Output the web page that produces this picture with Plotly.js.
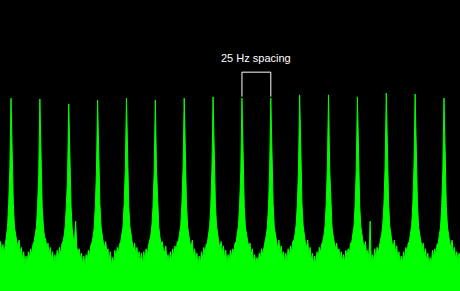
<!DOCTYPE html>
<html>
<head>
<meta charset="utf-8">
<script src="https://cdn.plot.ly/plotly-3.0.1.min.js"></script>
<style>
html,body{margin:0;padding:0;background:#000;}
#chart{width:460px;height:291px;}
</style>
</head>
<body>
<div id="chart"></div>
<script>
// Spectrum sampled every 1 Hz starting at 0 Hz; level in dB above the display floor
const startHz = 0;
const stepHz = 1;

const spectrumLevelDb = [
  // 0-9 Hz
  15, 17, 13, 16, 12.5, 16.5, 19, 22, 30, 42,
  // 10-34 Hz
  66.3, 42, 30, 22, 19, 17, 15, 17.5, 13, 15, 10.5, 13.5, 9, 12, 9.5, 13.5, 11, 14.5, 12.5, 16, 17, 19, 22, 29, 40,
  // 35-59 Hz
  66.0, 41, 29, 22.5, 18.5, 18, 14.5, 16.5, 12.5, 15, 11, 13.5, 9.5, 12.5, 10, 14, 11, 15, 12.5, 16, 17, 19, 22.5, 30, 39,
  // 60-84 Hz
  64.3, 40, 29, 21.5, 18, 17.5, 24, 15, 13, 14.5, 11, 13, 9, 12, 8.5, 12.5, 10.5, 14, 12, 15.5, 16.5, 18.5, 21.5, 29, 41,
  // 85-109 Hz
  65.6, 42, 30, 22, 19, 16.5, 15, 17, 13.5, 14.5, 10.5, 13.5, 9, 11.5, 9.5, 14, 11, 15, 13, 16, 17, 19, 22, 30, 42,
  // 110-134 Hz
  66.3, 41, 29, 22, 19, 17, 14, 16.5, 12.5, 15, 11.5, 13.5, 10, 13, 9, 13.5, 10.5, 14.5, 12, 15.5, 17, 19, 22.5, 29, 41,
  // 135-159 Hz
  65.6, 42, 30, 22, 18.5, 16, 17, 14, 13, 15.5, 11, 12.5, 9.5, 13.5, 10, 14.5, 12, 15.5, 13.5, 17, 17, 19.5, 22.5, 30, 42,
  // 160-184 Hz
  66.3, 41, 29.5, 22, 19, 16.5, 15, 17.5, 12, 14.5, 10.5, 13, 8.5, 12, 9.5, 13.5, 11, 15, 12.5, 16, 16.5, 19, 22, 29, 42,
  // 185-209 Hz
  66.7, 42, 30, 22.5, 18.5, 16.5, 14.5, 17, 13, 15.5, 11, 14, 9, 12.5, 10, 14, 11.5, 14.5, 13, 16.5, 17, 19.5, 22.5, 30, 41,
  // 210-234 Hz
  66.3, 41, 29, 22, 19, 17, 15, 16.5, 12.5, 14.5, 10, 12.5, 9, 11.5, 9.5, 13, 11, 14.5, 12.5, 15.5, 17, 19, 22, 29, 42,
  // 235-259 Hz
  66.3, 42, 30, 22, 19, 16.5, 14.5, 17.5, 13, 15.5, 11.5, 13.5, 9.5, 13, 10, 14.5, 11.5, 15.5, 13.5, 17, 17.5, 19.5, 23, 30, 42,
  // 260-284 Hz
  67.4, 42, 30, 22.5, 18.5, 16.5, 15, 17.5, 12.5, 15, 10.5, 13, 9, 12, 9, 13.5, 11, 15, 13, 16, 17, 19, 22.5, 30, 43,
  // 285-309 Hz
  67.4, 42, 30, 22, 19, 17, 14.5, 16.5, 13, 14.5, 11, 13.5, 10, 12.5, 9.5, 14, 11.5, 14.5, 12.5, 16.5, 16.5, 19.5, 22, 29.5, 42,
  // 310-334 Hz
  66.7, 41, 29, 22, 18.5, 16.5, 15, 17, 12, 14, 10.5, 24, 9.5, 12.5, 10, 14.5, 11, 15, 13, 16, 17.5, 19.5, 23, 30, 43,
  // 335-359 Hz
  68.0, 43, 30.5, 22.5, 19, 16.5, 15, 17.5, 13, 15.5, 11, 13.5, 9, 12, 9.5, 13.5, 11, 15, 13, 16.5, 17, 19.5, 22.5, 30, 43,
  // 360-384 Hz
  67.7, 42, 30, 22, 18.5, 17, 14.5, 16.5, 12.5, 14.5, 10, 13, 8.5, 11.5, 9, 14, 11.5, 14.5, 12.5, 16, 16.5, 19, 22, 29, 42,
  // 385-399 Hz
  66.3, 41, 29, 22, 18.5, 16.5, 15, 17.5, 13, 15, 11, 13.5, 10, 13, 11
];

// The two harmonics marked by the bracket and its label
const markedPeaksHz = [210, 235];
const bracketLevelsDb = [66.8, 75.2];
const spacingLabel = "25 Hz spacing";
const labelLevelDb = 80;

const spectrum = {
  type: 'scatter',
  mode: 'lines',
  x0: startHz,
  dx: stepHz,
  y: spectrumLevelDb,
  fill: 'tozeroy',
  fillcolor: '#00ff00',
  line: {color: '#00ff00', width: 1},
  hoverinfo: 'skip'
};

const bracket = {
  type: 'scatter',
  mode: 'lines',
  x: [markedPeaksHz[0], markedPeaksHz[0], markedPeaksHz[1], markedPeaksHz[1]],
  y: [bracketLevelsDb[0], bracketLevelsDb[1], bracketLevelsDb[1], bracketLevelsDb[0]],
  line: {color: '#ffffff', width: 1},
  hoverinfo: 'skip'
};

const layout = {
  width: 460,
  height: 291,
  margin: {l: 0, r: 0, t: 0, b: 0, pad: 0},
  paper_bgcolor: '#000000',
  plot_bgcolor: '#000000',
  showlegend: false,
  xaxis: {range: [0.47, 398.85], visible: false, fixedrange: true},
  yaxis: {range: [0, 100], visible: false, fixedrange: true},
  annotations: [{
    x: (markedPeaksHz[0] + markedPeaksHz[1]) / 2,
    y: labelLevelDb,
    xref: 'x', yref: 'y',
    text: spacingLabel,
    showarrow: false,
    font: {family: 'Liberation Sans, Arial, sans-serif', size: 11, color: '#ffffff'},
    xanchor: 'center', yanchor: 'middle'
  }]
};

Plotly.newPlot('chart', [spectrum, bracket], layout, {displayModeBar: false, staticPlot: true});
</script>
</body>
</html>
